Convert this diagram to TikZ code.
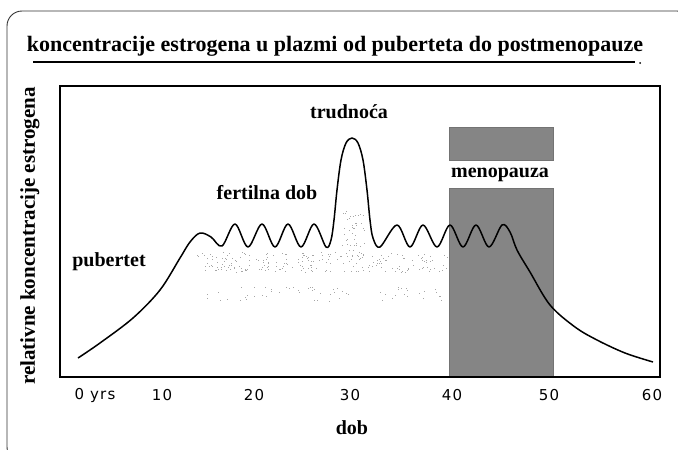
\documentclass[tikz,border=0pt]{standalone}
\usepackage{fontspec}
\setmainfont{Liberation Serif}
\newfontfamily\tickfont[LetterSpace=8]{DejaVu Sans}
\begin{document}
\begin{tikzpicture}[x=1pt,y=-1pt,
  lbl/.style={font=\fontsize{20}{22}\selectfont\bfseries, inner sep=0pt},
  tick/.style={font=\tickfont\fontsize{15}{17}\selectfont, inner sep=0pt},
  curve/.style={line width=1.5pt, line join=round},
  menobox/.style={fill=black!48, draw=black!55, line width=0.4pt}]
\useasboundingbox (0,0) rectangle (678,450);
\begin{scope}
\clip (0,0) rectangle (678,450);
\draw[line width=0.9pt, black!80, rounded corners=15pt] (7,11) rectangle (692,462);
\end{scope}
% title
\node[font=\fontsize{22}{24}\selectfont\bfseries, inner sep=0pt] (title) at (335,46)
  {koncentracije estrogena u plazmi od puberteta do postmenopauze};
\draw[line width=2pt] (33,62) -- (635,62);
\fill (640,63) circle (1pt);
% stipple
\pgfmathsetseed{7}
\foreach \i in {1,...,230} {
  \pgfmathsetmacro\xx{197+253*rnd}
  \pgfmathsetmacro\yy{252+20*rnd}
  \fill[black!35] (\xx,\yy) rectangle +(0.9,0.9);
}
\foreach \i in {1,...,60} {
  \pgfmathsetmacro\xx{205+245*rnd}
  \pgfmathsetmacro\yy{286+16*rnd}
  \fill[black!35] (\xx,\yy) rectangle +(0.9,0.9);
}
\foreach \i in {1,...,40} {
  \pgfmathsetmacro\xx{342+22*rnd}
  \pgfmathsetmacro\yy{210+40*rnd}
  \fill[black!35] (\xx,\yy) rectangle +(0.9,0.9);
}
% menopause boxes
\fill[menobox] (449,127) rectangle (553,160);
\fill[menobox] (449,188) rectangle (553,377);
% plot frame
\draw[line width=1.4pt] (60,86) rectangle (660,377);
% curve
\draw[curve] plot[smooth, tension=0.55] coordinates {
 (78,358) (100,343) (133,318) (160,290) (180,258) (190,242) (200,233) (211,237) (222,246)
 (235,224) (248,247) (262,224) (275,247) (288,224) (301,247) (314,224) (326,247)
 (331,240) (334,220) (337,190) (341,160) (346,143) (352,138) (358,143) (363,160) (367,190) (370,220) (373,238) (380,247)
 (397,225) (410,247) (423,225) (437,247) (450,225) (463,247) (476,225) (489,247) (502,225)
 (510,232) (517,250) (530,272) (550,305) (575,327) (597,340) (625,353) (653,362)};
% labels
\node[lbl] (pub) at (109,262) {pubertet};
\node[lbl] (fert) at (267,193) {fertilna dob};
\node[lbl] (trud) at (349,112) {trudnoća};
\node[lbl] (meno) at (500,175) {menopauza};
\node[lbl] (dob) at (352,428) {dob};
\node[font=\fontsize{21}{23}\selectfont\bfseries, inner sep=0pt, rotate=90] (ylab) at (30,236) {relativne koncentracije estrogena};
% ticks
\node[tick] (t0) at (95,395) {0 yrs};
\node[tick] (t10) at (162,395) {10};
\node[tick] (t20) at (254,395) {20};
\node[tick] (t30) at (350,395) {30};
\node[tick] (t40) at (452,395) {40};
\node[tick] (t50) at (549,395) {50};
\node[tick] (t60) at (652,395) {60};
\end{tikzpicture}
\end{document}
